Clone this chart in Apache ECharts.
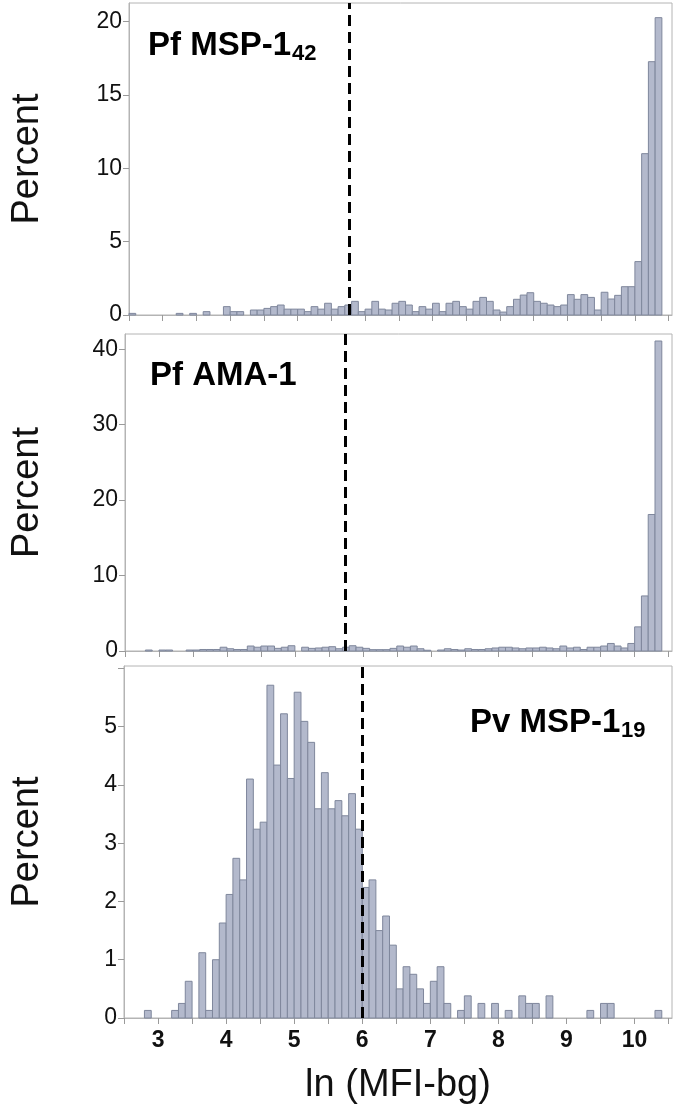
<!DOCTYPE html>
<html>
<head>
<meta charset="utf-8">
<script src="https://cdn.jsdelivr.net/npm/echarts@6/dist/echarts.min.js"></script>
<style>
html,body{margin:0;padding:0;background:#fff;}
#chart{width:680px;height:1112px;}
</style>
</head>
<body>
<div id="chart"></div>
<script>
// Histogram bins: lower edges of ln(MFI-bg) bins (width 0.1)
const binStarts = [2.5,2.6,2.7,2.8,2.9,3.0,3.1,3.2,3.3,3.4,3.5,3.6,3.7,3.8,3.9,
  4.0,4.1,4.2,4.3,4.4,4.5,4.6,4.7,4.8,4.9,5.0,5.1,5.2,5.3,5.4,5.5,5.6,5.7,5.8,5.9,
  6.0,6.1,6.2,6.3,6.4,6.5,6.6,6.7,6.8,6.9,7.0,7.1,7.2,7.3,7.4,7.5,7.6,7.7,7.8,7.9,
  8.0,8.1,8.2,8.3,8.4,8.5,8.6,8.7,8.8,8.9,9.0,9.1,9.2,9.3,9.4,9.5,9.6,9.7,9.8,9.9,
  10.0,10.1,10.2,10.3];
const binWidth = 0.1;

// Percent per bin
const pfMsp142 = [0.11,0,0,0,0,0,0,0.11,0,0.11,0,0.23,0,0,0.57,
  0.23,0.23,0,0.34,0.34,0.45,0.57,0.68,0.4,0.4,0.4,0.23,0.57,0.4,0.8,0.4,0.57,0.68,0.93,0.23,
  0.4,0.93,0.4,0.34,0.8,0.93,0.68,0.23,0.57,0.4,0.8,0.23,0.8,0.93,0.57,0.4,0.93,1.2,0.93,0.34,
  0.2,0.57,1.07,1.36,1.52,0.93,0.8,0.68,0.57,0.68,1.39,1.07,1.39,1.2,0.34,1.55,1.09,1.34,1.93,1.93,
  3.64,11.0,17.27,20.27];
const pfAma1 = [0,0,0,0.13,0,0.13,0.13,0,0,0.13,0.13,0.2,0.2,0.2,0.5,
  0.3,0.2,0.2,0.66,0.5,0.66,0.66,0.35,0.5,0.7,0,0.5,0.35,0.4,0.5,0.57,0.3,0.5,0.7,0.5,
  0.35,0.18,0.18,0.18,0.35,0.66,0.5,0.66,0.3,0.1,0,0.13,0.3,0.2,0.13,0.3,0.2,0.2,0.3,0.4,
  0.5,0.5,0.4,0.3,0.4,0.4,0.5,0.4,0.3,0.66,0.4,0.5,0.2,0.5,0.5,0.66,1.0,0.66,0.4,1.0,
  3.2,7.3,18.1,41.1];
const pvMsp119 = [0,0,0,0.13,0,0,0,0.13,0.25,0.63,0,1.12,0.13,1.0,1.63,
  2.12,2.74,2.37,4.1,3.24,3.36,5.71,4.34,5.22,4.11,5.59,5.09,4.73,3.59,4.21,3.59,3.73,3.47,3.85,3.24,
  2.24,2.37,1.5,1.75,1.25,0.5,0.88,0.75,0.5,0.25,0.63,0.88,0.25,0,0.13,0.38,0,0.25,0,0.25,
  0,0.13,0,0.38,0.25,0.25,0,0.38,0,0,0,0,0,0.13,0,0.25,0.25,0,0,0,
  0,0,0,0.13];

// Cut-off (dashed line) per antigen
const cutoffs = [5.77, 5.74, 6.0];
const panelTitles = ['Pf MSP-1', 'Pf AMA-1', 'Pv MSP-1'];
const panelSubs = ['42', '', '19'];

// Ticks
const xTicks = [2.5,3,3.5,4,4.5,5,5.5,6,6.5,7,7.5,8,8.5,9,9.5,10,10.5];
const xLabels = [3,4,5,6,7,8,9,10];
const yTicks1 = [0,5,10,15,20];
const yTicks2 = [0,10,20,30,40];
const yTicks3 = [0,1,2,3,4,5,6];
const yLabels3 = [0,1,2,3,4,5];

const FONT = 'Liberation Sans, Arial, sans-serif';
const BAR_FILL = '#b3b9cc';
const BAR_STROKE = '#7f879c';
const FRAME = '#b4b4b4';

const grids = [
  {left: 129, right: 8, top: 3, height: 312},
  {left: 125, right: 8, top: 334, height: 317},
  {left: 124, right: 8, top: 666, height: 352}
];
const yMax = [21.27, 42.03, 6.04];
const yTickSets = [yTicks1, yTicks2, yTicks3];
const yLabelSets = [yTicks1, yTicks2, yLabels3];
const seriesValues = [pfMsp142, pfAma1, pvMsp119];

function renderItem(params, api) {
  const v = api.value(2);
  if (!v) return null;
  const p0 = api.coord([api.value(0), v]);
  const p1 = api.coord([api.value(1), 0]);
  return {
    type: 'rect',
    shape: {x: p0[0], y: p0[1], width: p1[0] - p0[0], height: p1[1] - p0[1]},
    style: {fill: BAR_FILL, stroke: BAR_STROKE, lineWidth: 1}
  };
}

const option = {
  backgroundColor: '#fff',
  animation: false,
  grid: grids.map(g => Object.assign({show: true, borderColor: FRAME, borderWidth: 1, backgroundColor: 'transparent'}, g)),
  xAxis: grids.map((g, i) => ({
    type: 'value', gridIndex: i, min: 2.5, max: 10.55,
    axisLine: {show: true, lineStyle: {color: FRAME, width: 1}},
    axisTick: {show: true, customValues: xTicks, length: 6, lineStyle: {color: '#9a9a9a'}},
    axisLabel: {show: i === 2, customValues: xLabels, fontFamily: FONT, fontWeight: 'bold', fontSize: 23, color: '#111', margin: 11},
    splitLine: {show: false},
    name: i === 2 ? 'ln (MFI-bg)' : '',
    nameLocation: 'middle', nameGap: 49,
    nameTextStyle: {fontFamily: FONT, fontSize: 38, color: '#111'}
  })),
  yAxis: grids.map((g, i) => ({
    type: 'value', gridIndex: i, min: 0, max: yMax[i],
    axisLine: {show: true, lineStyle: {color: FRAME, width: 1}},
    axisTick: {show: true, customValues: yTickSets[i], length: 6, lineStyle: {color: '#9a9a9a'}},
    axisLabel: {customValues: yLabelSets[i], fontFamily: FONT, fontSize: 23, color: '#111', margin: 7},
    splitLine: {show: false},
    name: 'Percent', nameLocation: 'middle', nameRotate: 90, nameGap: g.left - 47,
    nameTextStyle: {fontFamily: FONT, fontSize: 38, color: '#111'}
  })),
  series: seriesValues.map((vals, i) => ({
    type: 'custom', xAxisIndex: i, yAxisIndex: i,
    renderItem: renderItem,
    encode: {x: [0, 1], y: 2},
    data: binStarts.map((s, k) => [s, +(s + binWidth).toFixed(2), vals[k]]),
    markLine: {
      silent: true, symbol: 'none', animation: false,
      label: {show: false},
      lineStyle: {color: '#000', width: 3, type: [11, 6]},
      data: [{xAxis: cutoffs[i]}]
    }
  })),
  graphic: [
    {type: 'text', left: 148, top: 29, style: {text: panelTitles[0], font: 'bold 33px ' + FONT, fill: '#000'}},
    {type: 'text', left: 292, top: 43, style: {text: panelSubs[0], font: 'bold 22px ' + FONT, fill: '#000'}},
    {type: 'text', left: 150, top: 359, style: {text: panelTitles[1], font: 'bold 33px ' + FONT, fill: '#000'}},
    {type: 'text', left: 470, top: 706, style: {text: panelTitles[2], font: 'bold 33px ' + FONT, fill: '#000'}},
    {type: 'text', left: 621, top: 720, style: {text: panelSubs[2], font: 'bold 22px ' + FONT, fill: '#000'}}
  ]
};

const chart = echarts.init(document.getElementById('chart'), null, {renderer: 'canvas'});
chart.setOption(option);
</script>
</body>
</html>
